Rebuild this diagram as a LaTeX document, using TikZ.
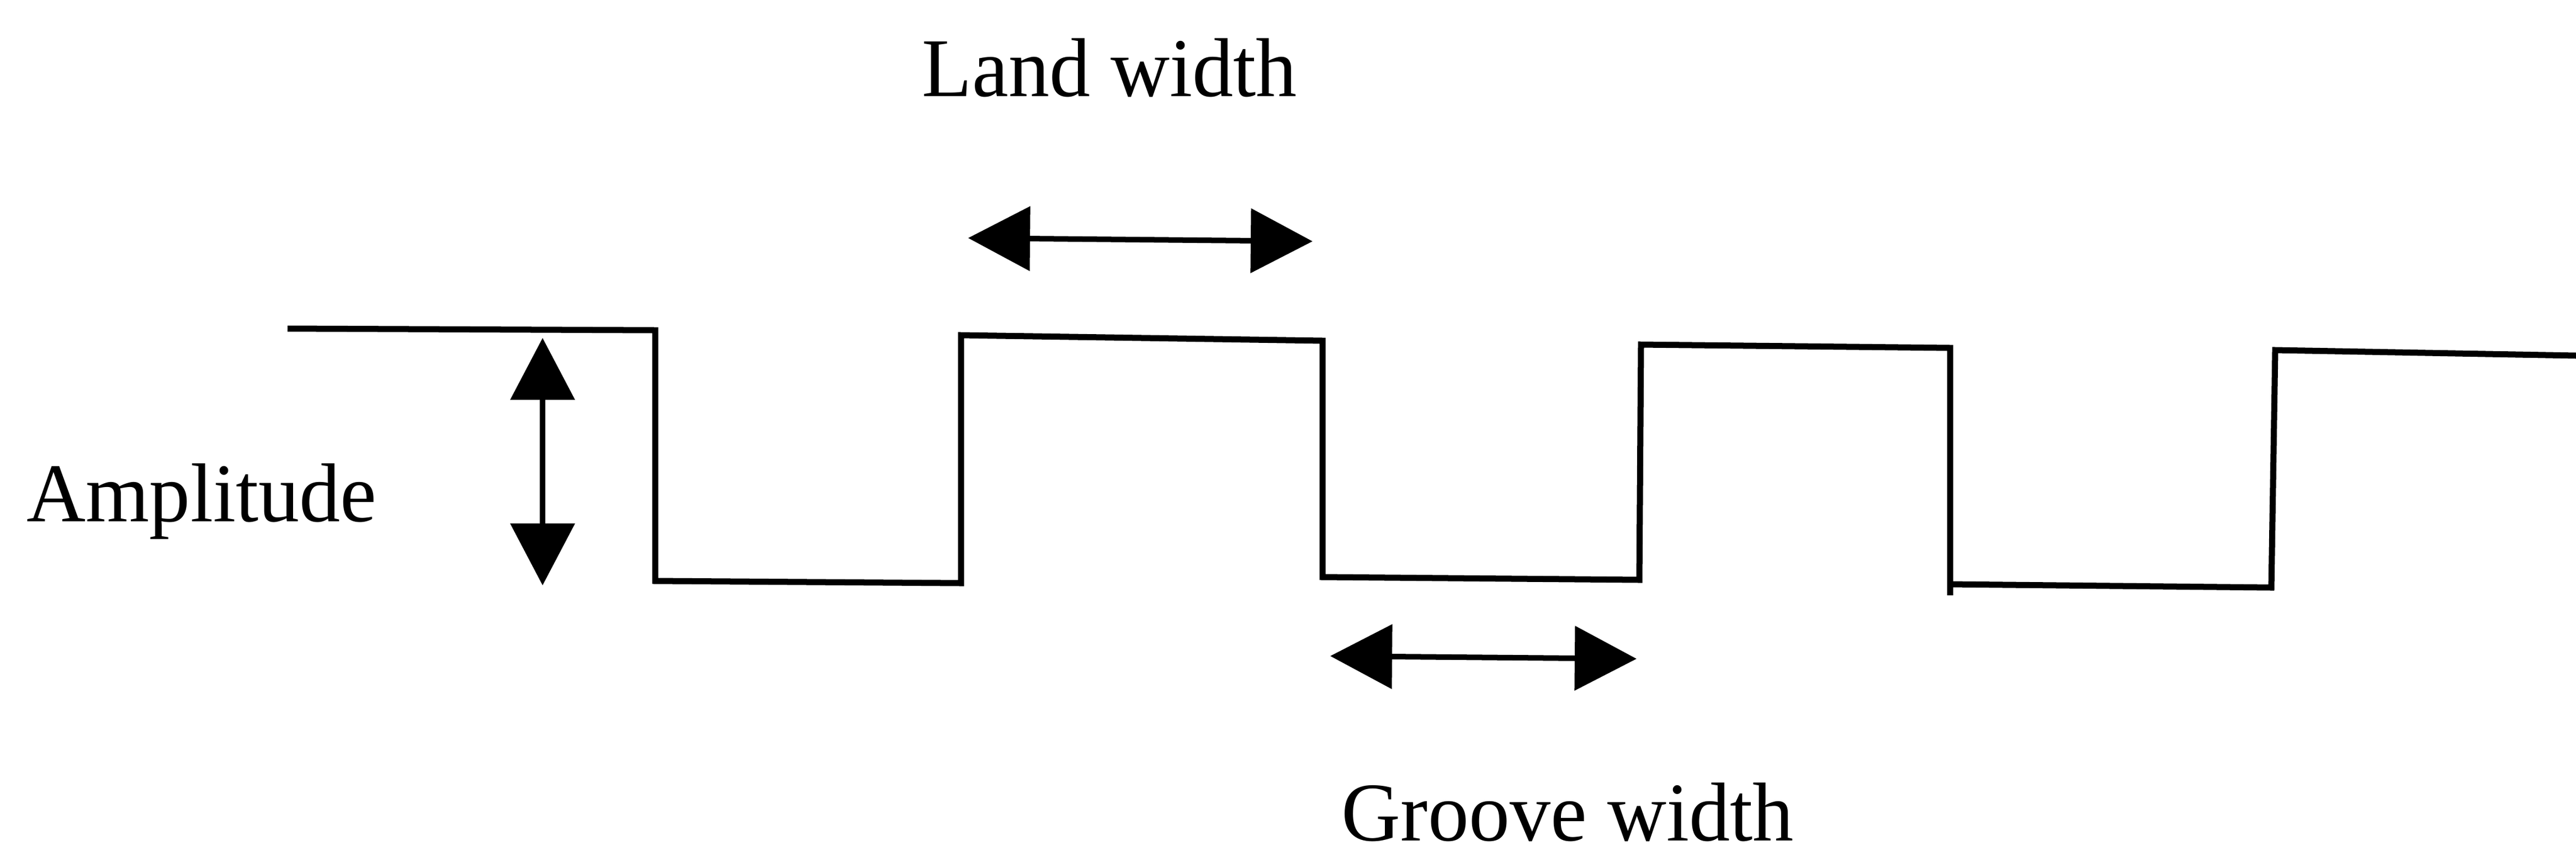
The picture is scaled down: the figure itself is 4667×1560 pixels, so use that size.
\documentclass[tikz,border=0pt]{standalone}
\usepackage{fontspec}
\setmainfont{Liberation Serif}
\usetikzlibrary{arrows.meta}
\begin{document}
\begin{tikzpicture}[x=0.01cm,y=-0.01cm,
  wave/.style={line width=0.11cm,line join=miter},
  dimarrow/.style={line width=0.1cm,{Triangle[length=1.12cm,width=1.15cm]}-{Triangle[length=1.12cm,width=1.15cm]}},
  lbl/.style={inner sep=0pt,anchor=base west,xscale=0.98,font=\fontsize{43}{50}\selectfont}]
\useasboundingbox (0,0) rectangle (4667,1560);
% waveform corners
\coordinate (w0) at (521,595);
\coordinate (w1) at (1187,598);
\coordinate (w2) at (1187,1052);
\coordinate (w3) at (1741,1056);
\coordinate (w4) at (1741,607);
\coordinate (w5) at (2396,617);
\coordinate (w6) at (2396,1045);
\coordinate (w7) at (2970,1050);
\coordinate (w8) at (2973,624);
\coordinate (w9) at (3533,630);
\coordinate (w10) at (3533,1078);
\coordinate (w10b) at (3533,1058);
\coordinate (w11) at (4115,1064);
\coordinate (w12) at (4122,634);
\coordinate (w13) at (4667,644);
\draw[wave] (w0) -- (w1) -- (w2) -- (w3) -- (w4) -- (w5) -- (w6) -- (w7) -- (w8) -- (w9) -- (w10);
\draw[wave] (w10b) -- (w11) -- (w12) -- (w13);
% arrow ends
\coordinate (lwA) at (1754,431);
\coordinate (lwB) at (2378,437);
\coordinate (gwA) at (2410,1188);
\coordinate (gwB) at (2965,1193);
\coordinate (amA) at (983,612);
\coordinate (amB) at (983,1060);
\draw[dimarrow] (lwA) -- (lwB);
\draw[dimarrow] (gwA) -- (gwB);
\draw[dimarrow] (amA) -- (amB);
% labels
\node[lbl] (land) at (1670,174) {Land width};
\node[lbl] (amp) at (48,944) {Amplitude};
\node[lbl] (groove) at (2430,1522) {Groove width};
\end{tikzpicture}
\end{document}
